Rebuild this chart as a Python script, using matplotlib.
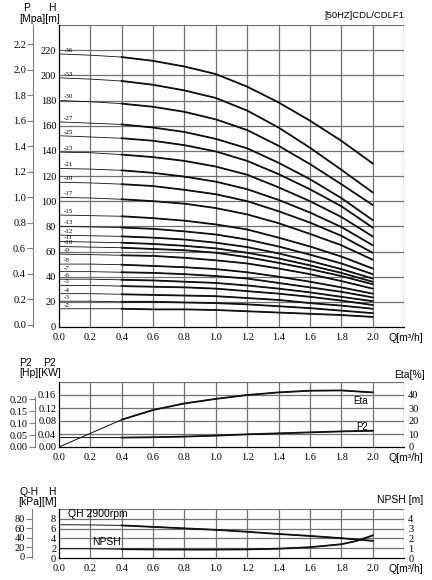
import matplotlib
matplotlib.use('Agg')
import matplotlib.pyplot as plt

SERIF = 'Liberation Serif'
SANS = 'Liberation Sans'

# --- Q-H curves (main panel) ---
q_main = [0.0, 0.2, 0.4, 0.6, 0.8, 1.0, 1.2, 1.4, 1.6, 1.8, 2.0]
stages = ['-36', '-33', '-30', '-27', '-25', '-23', '-21', '-19', '-17', '-15', '-13',
          '-12', '-11', '-10', '-9', '-8', '-7', '-6', '-5', '-4', '-3', '-2']
head = [
    [217, 216, 214.5, 211.5, 207, 201, 191, 178.5, 164, 148, 130],
    [198, 197, 195.5, 192.5, 188, 182, 172, 158.5, 142.5, 125, 107],
    [180, 179, 177.5, 175, 171, 165, 156.5, 144, 129.5, 113.5, 97],
    [163, 162, 161, 158.5, 155, 149.5, 142, 130.5, 117.5, 102.5, 85],
    [152, 151, 150, 148, 144.5, 139.5, 132, 121.5, 109.5, 96, 79],
    [139, 138.5, 137, 135, 132, 127.5, 121, 111, 100, 87.5, 72],
    [126, 125.5, 124.5, 122.5, 119.5, 115.5, 109.5, 101, 91, 79.5, 65],
    [115, 114.5, 113.5, 112, 109, 105.5, 100, 92, 83, 72.5, 59],
    [103, 102.5, 101.5, 100, 98, 94.5, 89.5, 82.5, 74, 65, 53.5],
    [89, 88.5, 88, 86.5, 84.5, 81.5, 77.5, 71, 64, 56, 46.5],
    [80, 79.5, 79, 78, 76, 73.5, 69.5, 64, 57.5, 50.5, 42],
    [73, 72.5, 72, 71, 69.5, 67, 63.5, 58.5, 52.5, 46, 38.5],
    [68, 67.5, 67, 66, 64.5, 62.5, 59, 54.5, 49, 43, 36],
    [64, 63.5, 63, 62, 61, 59, 55.5, 51, 46, 40.5, 34],
    [58, 57.5, 57, 56.5, 55, 53, 50.5, 46.5, 42, 36.5, 30.5],
    [50, 50, 49.5, 48.5, 47.5, 46, 43.5, 40, 36, 31.5, 26.5],
    [44, 44, 43.5, 43, 42, 40.5, 38.5, 35, 31.5, 28, 23.5],
    [38, 38, 37.5, 37, 36, 35, 33, 30.5, 27.5, 24, 20.5],
    [33, 33, 32.5, 32, 31.5, 30.5, 28.5, 26.5, 24, 21, 17.5],
    [26.5, 26.5, 26, 25.5, 25, 24.5, 23, 21.5, 19, 17, 14.5],
    [20.5, 20.5, 20, 20, 19.5, 19, 18, 16.5, 15, 13, 11],
    [14.5, 14.5, 14.5, 14, 14, 13.5, 12.5, 11.5, 10.5, 9.5, 8],
]

# --- power / efficiency panel ---
q_pow = [0.0, 0.2, 0.4, 0.6, 0.8, 1.0, 1.2, 1.4, 1.6, 1.8, 2.0]
eta = [0, 10.5, 21, 28.5, 33.5, 37, 40, 42, 43.3, 43.5, 42]
p2 = [0.029, 0.029, 0.029, 0.030, 0.032, 0.035, 0.039, 0.042, 0.045, 0.048, 0.050]

# --- QH / NPSH panel ---
q_qh = [0.0, 0.2, 0.4, 0.6, 0.8, 1.0, 1.2, 1.4, 1.6, 1.8, 2.0]
qh = [6.8, 6.75, 6.65, 6.35, 6.05, 5.75, 5.35, 4.9, 4.5, 4.05, 3.5]
q_npsh = [0.0, 0.2, 0.4, 0.6, 0.8, 1.0, 1.2, 1.4, 1.6, 1.8, 1.9, 2.0]
npsh = [0.95, 0.95, 0.9, 0.87, 0.86, 0.86, 0.88, 0.95, 1.1, 1.4, 1.75, 2.3]

x_ticks = [0.0, 0.2, 0.4, 0.6, 0.8, 1.0, 1.2, 1.4, 1.6, 1.8, 2.0]
x_grid = x_ticks + [2.2]

W, H = 432, 580
fig = plt.figure(figsize=(W / 100, H / 100), dpi=100)
LINE = '#111111'


def box(left, right, top, bottom):
    return [left / W, 1 - bottom / H, (right - left) / W, (bottom - top) / H]


def style_main(ax, ylim, ystep, yticks, ylabels):
    ax.set_xlim(0, 2.2)
    ax.set_ylim(*ylim)
    ax.set_xticks(x_ticks)
    ax.set_xticklabels([f'{v:.1f}' for v in x_ticks])
    for v in x_grid[1:]:
        ax.axvline(v, color='#707070', lw=0.9, zorder=0)
    y = ylim[0] + ystep
    while y <= ylim[1] + 1e-9:
        ax.axhline(y, color='#707070', lw=0.9, zorder=0)
        y += ystep
    ax.set_yticks(yticks)
    ax.set_yticklabels(ylabels)
    ax.tick_params(labelsize=7.5, labelfontfamily=SERIF)
    ax.tick_params(axis='x', length=0, pad=4)
    ax.tick_params(axis='y', length=0, pad=2)
    for s in ['top', 'right']:
        ax.spines[s].set_visible(False)
    for s in ['left', 'bottom']:
        ax.spines[s].set_linewidth(0.9)
    ax.annotate('Q[m³/h]', xy=(2.1, 0), xycoords=ax.get_xaxis_transform(),
                xytext=(0, -4.5), textcoords='offset points', family=SANS,
                fontsize=7.5, ha='left', va='top')


def side_axis(ax, ylim, ticks, labels, side, offset):
    tw = ax.twinx()
    tw.set_ylim(*ylim)
    tw.set_yticks(ticks)
    tw.set_yticklabels(labels)
    tw.tick_params(labelsize=7.5, labelfontfamily=SERIF)
    for s in ['top', 'bottom', 'left', 'right']:
        tw.spines[s].set_visible(False)
    if side == 'left':
        tw.yaxis.set_ticks_position('left')
        tw.spines['left'].set_visible(True)
        tw.spines['left'].set_position(('axes', offset))
        tw.spines['left'].set_color('#808080')
        tw.tick_params(axis='y', length=4, pad=1, color='#808080')
    else:
        tw.tick_params(axis='y', length=0, pad=3)
    return tw


# ---------------- main panel ----------------
ax = fig.add_axes(box(59, 404, 25, 327))
h_ticks = list(range(0, 221, 20))
style_main(ax, (0, 240), 20, h_ticks, [str(v) for v in h_ticks])
for name, h in zip(stages, head):
    ax.plot(q_main, h, color=LINE, lw=0.6)
    ax.plot(q_main[2:], h[2:], color=LINE, lw=1.3)
    ax.text(0.03, h[0] + 0.8, name, family=SERIF, fontsize=5, ha='left', va='bottom')

p_ticks = [i / 10 for i in range(0, 23, 2)]
side_axis(ax, (-0.016, 2.35), p_ticks, [f'{v:.1f}' for v in p_ticks], 'left', -26 / 345)

fig.text(27 / W, 1 - 8 / H, 'P', family=SANS, fontsize=7.5, ha='center', va='center')
fig.text(52 / W, 1 - 8 / H, 'H', family=SANS, fontsize=7.5, ha='center', va='center')
fig.text(40 / W, 1 - 19 / H, '[Mpa][m]', family=SANS, fontsize=7.5, ha='center', va='center')
fig.text(404 / W, 1 - 16 / H, '[50HZ]CDL/CDLF1', family=SANS, fontsize=6.8,
         ha='right', va='center')

# ---------------- power panel ----------------
ax2 = fig.add_axes(box(59, 404, 382, 447))
kw_ticks = [0, 0.04, 0.08, 0.12, 0.16]
style_main(ax2, (0, 0.2), 0.04, kw_ticks, [f'{v:.2f}' for v in kw_ticks])
ax2.plot(q_pow, p2, color=LINE, lw=0.7)
ax2.plot(q_pow[2:], p2[2:], color=LINE, lw=1.3)
hp_ticks = [0, 0.05, 0.10, 0.15, 0.20]
hp = side_axis(ax2, (0, 0.271), hp_ticks, [f'{v:.2f}' for v in hp_ticks], 'left', -24 / 345)
hp.spines['left'].set_bounds(0, 0.21)
eta_ax = side_axis(ax2, (0, 50), [0, 10, 20, 30, 40], ['0', '10', '20', '30', '40'], 'right', 0)
eta_ax.plot(q_pow, eta, color=LINE, lw=0.7)
eta_ax.plot(q_pow[2:], eta[2:], color=LINE, lw=1.3)
eta_ax.text(1.97, 35.5, 'Eta', family=SANS, fontsize=7, ha='right', va='center')
eta_ax.text(1.97, 15.5, 'P2', family=SANS, fontsize=7, ha='right', va='center')

fig.text(25 / W, 1 - 363 / H, 'P2', family=SANS, fontsize=7.5, ha='center', va='center')
fig.text(50 / W, 1 - 363 / H, 'P2', family=SANS, fontsize=7.5, ha='center', va='center')
fig.text(40 / W, 1 - 373 / H, '[Hp][KW]', family=SANS, fontsize=7.5, ha='center', va='center')
fig.text(425 / W, 1 - 375 / H, 'Eta[%]', family=SANS, fontsize=7.5, ha='right', va='center')

# ---------------- QH / NPSH panel ----------------
ax3 = fig.add_axes(box(59, 404, 509, 558))
style_main(ax3, (0, 10), 2, [0, 2, 4, 6, 8], ['0', '2', '4', '6', '8'])
ax3.plot(q_qh, qh, color=LINE, lw=0.7)
ax3.plot(q_qh[2:], qh[2:], color=LINE, lw=1.3)
ax3.text(0.06, 9.0, 'QH 2900rpm', family=SANS, fontsize=7.5, ha='left', va='center')
ax3.text(0.21, 3.2, 'NPSH', family=SANS, fontsize=7.5, ha='left', va='center')
side_axis(ax3, (-2.6, 100.6), [0, 20, 40, 60, 80], ['0', '20', '40', '60', '80'],
          'left', -27 / 345)
np_ax = side_axis(ax3, (0, 5), [0, 1, 2, 3, 4], ['0', '1', '2', '3', '4'], 'right', 0)
np_ax.plot(q_npsh, npsh, color=LINE, lw=0.7)
np_ax.plot(q_npsh[2:], npsh[2:], color=LINE, lw=1.3)

fig.text(29 / W, 1 - 492 / H, 'Q-H', family=SANS, fontsize=7.5, ha='center', va='center')
fig.text(52 / W, 1 - 492 / H, 'H', family=SANS, fontsize=7.5, ha='center', va='center')
fig.text(38 / W, 1 - 502 / H, '[kPa][M]', family=SANS, fontsize=7.5, ha='center', va='center')
fig.text(423 / W, 1 - 500 / H, 'NPSH [m]', family=SANS, fontsize=7.5, ha='right', va='center')

fig.savefig('out.png', dpi=100)
